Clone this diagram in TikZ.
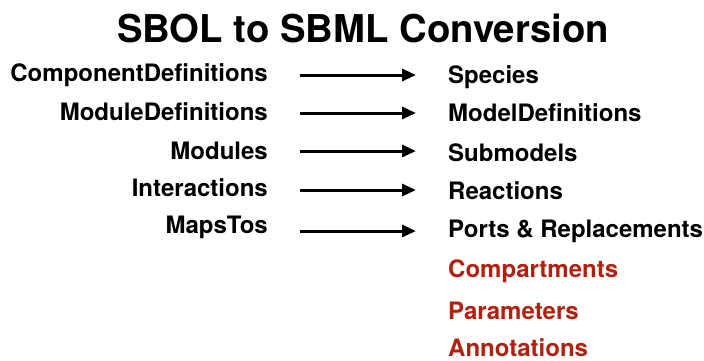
\documentclass[tikz,border=0pt]{standalone}
\usepackage{fontspec}
\setmainfont{TeX Gyre Heros}
\usetikzlibrary{arrows.meta,positioning}
\definecolor{extra}{HTML}{B3200F}
\tikzset{
  sbol/.style={anchor=east,inner sep=0pt,font=\bfseries\fontsize{24}{24}\selectfont},
  sbml/.style={anchor=west,inner sep=0pt,font=\bfseries\fontsize{24}{24}\selectfont},
  conv/.style={line width=3pt,-{Triangle[length=14pt,width=12pt]}}
}
\begin{document}
\begin{tikzpicture}[x=1pt,y=-1pt]
  \useasboundingbox (0,0) rectangle (704,360);
  \node[inner sep=0pt,font=\bfseries\fontsize{38.3}{38.3}\selectfont] (title) at (363,28) {SBOL to SBML Conversion};
  % mapped parts
  \foreach \n/\l/\r/\yl/\ya/\yr in {1/ComponentDefinitions/Species/75/75/77,
                                    2/ModuleDefinitions/ModelDefinitions/112/113/113,
                                    3/Modules/Submodels/151/151/153,
                                    4/Interactions/Reactions/188/190/191,
                                    5/MapsTos/{Ports \& Replacements}/227/231/231}{
    \node[sbol] (l\n) at (268,\yl) {\l};
    \node[sbml] (r\n) at (448,\yr) {\r};
    \coordinate (s\n) at (300,\ya);
    \coordinate (e\n) at (416,\ya);
    \draw[conv] (s\n) -- (e\n);}
  % SBML only
  \foreach \n/\r/\y in {6/Compartments/271,7/Parameters/311,8/Annotations/348}
    \node[sbml,text=extra] (r\n) at (448,\y) {\r};
\end{tikzpicture}
\end{document}
